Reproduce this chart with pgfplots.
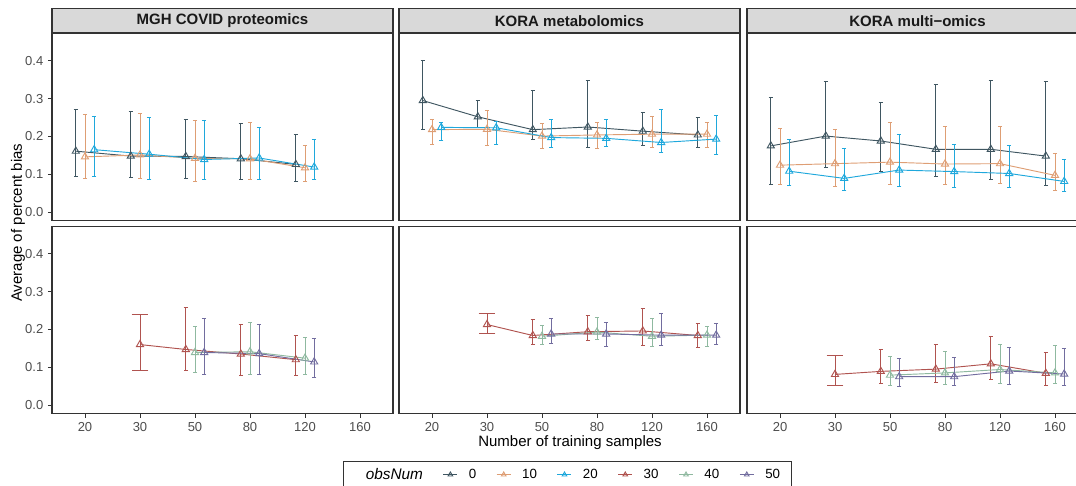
\documentclass[border=0pt]{standalone}
\usepackage{fontspec}
\setmainfont{Liberation Sans}
\usepackage{pgfplots}
\usepackage{pgfplotstable}
\pgfplotsset{compat=1.18}
\definecolor{c0}{HTML}{3F5661}
\definecolor{c10}{HTML}{DE9E74}
\definecolor{c20}{HTML}{1FA8DC}
\definecolor{c30}{HTML}{B0534F}
\definecolor{c40}{HTML}{8FB9A0}
\definecolor{c50}{HTML}{726D9F}
\definecolor{g20}{HTML}{333333}
\definecolor{g30}{HTML}{4D4D4D}
\definecolor{stripc}{HTML}{D9D9D9}

% MGH COVID proteomics
\pgfplotstableread{
x y lo hi
-0.167 0.161 0.095 0.272
0.833 0.148 0.092 0.266
1.833 0.147 0.089 0.244
2.833 0.141 0.085 0.235
3.833 0.126 0.082 0.204
}\mghA
\pgfplotstableread{
x y lo hi
0 0.146 0.090 0.257
1 0.151 0.090 0.262
2 0.142 0.082 0.241
3 0.141 0.087 0.236
4 0.117 0.081 0.176
}\mghB
\pgfplotstableread{
x y lo hi
0.167 0.165 0.093 0.254
1.167 0.153 0.087 0.251
2.167 0.139 0.086 0.242
3.167 0.143 0.086 0.224
4.167 0.119 0.085 0.191
}\mghC
\pgfplotstableread{
x y lo hi
1 0.160 0.091 0.240
1.833 0.147 0.091 0.257
2.833 0.135 0.077 0.214
3.833 0.120 0.078 0.185
}\mghD
\pgfplotstableread{
x y lo hi
2 0.139 0.086 0.209
3 0.141 0.082 0.218
4 0.124 0.080 0.180
}\mghE
\pgfplotstableread{
x y lo hi
2.167 0.139 0.082 0.228
3.167 0.136 0.082 0.212
4.167 0.114 0.074 0.177
}\mghF
% KORA metabolomics
\pgfplotstableread{
x y lo hi
-0.167 0.295 0.218 0.400
0.833 0.252 0.223 0.295
1.833 0.218 0.192 0.322
2.833 0.225 0.171 0.348
3.833 0.214 0.176 0.263
4.833 0.204 0.171 0.251
}\metA
\pgfplotstableread{
x y lo hi
0 0.218 0.180 0.246
1 0.219 0.176 0.269
2 0.201 0.169 0.234
3 0.204 0.168 0.238
4 0.206 0.172 0.254
5 0.206 0.171 0.236
}\metB
\pgfplotstableread{
x y lo hi
0.167 0.224 0.189 0.238
1.167 0.223 0.179 0.240
2.167 0.197 0.170 0.246
3.167 0.195 0.174 0.244
4.167 0.184 0.157 0.272
5.167 0.193 0.153 0.255
}\metC
\pgfplotstableread{
x y lo hi
1 0.213 0.189 0.241
1.833 0.184 0.161 0.227
2.833 0.194 0.170 0.238
3.833 0.196 0.158 0.255
4.833 0.184 0.151 0.217
}\metD
\pgfplotstableread{
x y lo hi
2 0.182 0.161 0.210
3 0.193 0.173 0.233
4 0.182 0.156 0.228
5 0.185 0.156 0.207
}\metE
\pgfplotstableread{
x y lo hi
2.167 0.188 0.162 0.229
3.167 0.188 0.154 0.219
4.167 0.185 0.158 0.242
5.167 0.185 0.161 0.217
}\metF
% KORA multi-omics
\pgfplotstableread{
x y lo hi
-0.167 0.175 0.074 0.304
0.833 0.201 0.117 0.345
1.833 0.188 0.107 0.290
2.833 0.166 0.094 0.338
3.833 0.166 0.086 0.347
4.833 0.148 0.069 0.346
}\mulA
\pgfplotstableread{
x y lo hi
0 0.124 0.072 0.220
1 0.128 0.068 0.218
2 0.132 0.072 0.238
3 0.127 0.074 0.227
4 0.128 0.076 0.227
5 0.097 0.058 0.156
}\mulB
\pgfplotstableread{
x y lo hi
0.167 0.108 0.069 0.193
1.167 0.089 0.056 0.167
2.167 0.111 0.068 0.204
3.167 0.107 0.066 0.180
4.167 0.102 0.064 0.176
5.167 0.081 0.055 0.139
}\mulC
\pgfplotstableread{
x y lo hi
1 0.081 0.053 0.131
1.833 0.089 0.056 0.146
2.833 0.095 0.060 0.159
3.833 0.109 0.068 0.182
4.833 0.084 0.053 0.139
}\mulD
\pgfplotstableread{
x y lo hi
2 0.079 0.053 0.128
3 0.085 0.055 0.141
4 0.094 0.058 0.161
5 0.085 0.058 0.157
}\mulE
\pgfplotstableread{
x y lo hi
2.167 0.075 0.048 0.124
3.167 0.075 0.051 0.126
4.167 0.090 0.055 0.153
5.167 0.082 0.052 0.149
}\mulF

\pgfplotsset{
  table/errtab/.style={x=x, y=y, y error plus expr=\thisrow{hi}-\thisrow{y}, y error minus expr=\thisrow{y}-\thisrow{lo}},
  panel/.style={
    scale only axis, width=255.75pt, height=140.25pt,
    xmin=-0.6, xmax=5.6, ymin=-0.0225, ymax=0.4725,
    axis line style={draw=g20, line width=0.8pt},
    tick style={draw=g20, line width=0.6pt},
    tick align=outside, major tick length=3pt,
    xtick pos=bottom, ytick pos=left,
    xtick={0,...,5}, xticklabels={20,30,50,80,120,160},
    ytick={0,0.1,0.2,0.3,0.4},
    yticklabel style={/pgf/number format/fixed, /pgf/number format/fixed zerofill, /pgf/number format/precision=1},
    /pgf/number format/assume math mode=true,
    ticklabel style={font=\fontsize{9.75}{11}\selectfont, text=g30},
    anchor=north west,
    every axis title shift=0pt,
  },
  notop/.style={xtick=\empty},
  noleft/.style={ytick=\empty},
  strip/.style={title={#1}, title style={at={(0.5,1)}, anchor=south, yshift=0pt,
    fill=stripc, draw=g20, line width=0.8pt, minimum width=255.75pt, minimum height=18.4pt,
    inner sep=0pt, font=\bfseries\fontsize{11.25}{13}\selectfont, text=black!90}},
  ser/.style={color=#1, line width=0.7pt, mark=triangle, mark size=3.1pt,
    mark options={solid, line width=0.7pt},
    /pgfplots/error bars/y dir=both, /pgfplots/error bars/y explicit,
    /pgfplots/error bars/error bar style={line width=0.7pt, solid},
    /pgfplots/error bars/error mark options={rotate=90, mark size=1.65pt, line width=0.7pt}},
  wide/.style={color=#1, line width=0.7pt, mark=none,
    /pgfplots/error bars/y dir=both, /pgfplots/error bars/y explicit,
    /pgfplots/error bars/error bar style={line width=0.7pt, solid},
    /pgfplots/error bars/error mark options={rotate=90, mark size=6.2pt, line width=0.7pt}},
  legkey/.style={color=#1, line width=0.7pt, mark=triangle, mark size=2pt, mark options={solid}},
}

\begin{document}
\begin{tikzpicture}
% top row
\begin{axis}[panel, notop, strip={MGH COVID proteomics}, at={(39pt,-25.125pt)}]
\addplot[ser=c0] table[errtab] {\mghA};
\addplot[ser=c10] table[errtab] {\mghB};
\addplot[ser=c20] table[errtab] {\mghC};
\end{axis}
\begin{axis}[panel, notop, noleft, strip={KORA metabolomics}, at={(299.25pt,-25.125pt)}]
\addplot[ser=c0] table[errtab] {\metA};
\addplot[ser=c10] table[errtab] {\metB};
\addplot[ser=c20] table[errtab] {\metC};
\end{axis}
\begin{axis}[panel, notop, noleft, strip={KORA multi−omics}, at={(560.25pt,-25.125pt)}]
\addplot[ser=c0] table[errtab] {\mulA};
\addplot[ser=c10] table[errtab] {\mulB};
\addplot[ser=c20] table[errtab] {\mulC};
\end{axis}
% bottom row
\begin{axis}[panel, at={(39pt,-169.875pt)}]
\addplot[wide=c30] coordinates {(1,0.160) += (0,0.080) -= (0,0.069)};
\addplot[ser=c30] table[errtab] {\mghD};
\addplot[ser=c40] table[errtab] {\mghE};
\addplot[ser=c50] table[errtab] {\mghF};
\end{axis}
\begin{axis}[panel, noleft, at={(299.25pt,-169.875pt)},
  legend columns=-1,
  legend style={at={(0.494,-0.327)}, anchor=center, draw=g20, line width=0.6pt,
    font=\fontsize{10}{12}\selectfont, inner xsep=8.25pt, inner ysep=5pt,
    nodes={inner sep=0pt},
    /tikz/every odd column/.append style={column sep=8.25pt},
    /tikz/every even column/.append style={column sep=15pt}},
  legend image code/.code={\draw[mark repeat=2, mark phase=2, #1] plot coordinates {(0pt,0pt) (5.25pt,0pt) (10.5pt,0pt)};},
]
\addplot[forget plot, wide=c30] coordinates {(1,0.213) += (0,0.028) -= (0,0.024)};
\addplot[forget plot, ser=c30] table[errtab] {\metD};
\addplot[forget plot, ser=c40] table[errtab] {\metE};
\addplot[forget plot, ser=c50] table[errtab] {\metF};
\addlegendimage{empty legend}
\addlegendentry{\fontsize{11.5}{13}\selectfont\itshape obsNum}
\addlegendimage{legkey=c0}
\addlegendentry{0}
\addlegendimage{legkey=c10}
\addlegendentry{10}
\addlegendimage{legkey=c20}
\addlegendentry{20}
\addlegendimage{legkey=c30}
\addlegendentry{30}
\addlegendimage{legkey=c40}
\addlegendentry{40}
\addlegendimage{legkey=c50}
\addlegendentry{50\hspace{6.75pt}}
\end{axis}
\begin{axis}[panel, noleft, at={(560.25pt,-169.875pt)}]
\addplot[wide=c30] coordinates {(1,0.081) += (0,0.050) -= (0,0.028)};
\addplot[ser=c30] table[errtab] {\mulD};
\addplot[ser=c40] table[errtab] {\mulE};
\addplot[ser=c50] table[errtab] {\mulF};
\end{axis}
\node[font=\fontsize{11.25}{13}\selectfont] at (427.5pt,-332pt) {Number of training samples};
\node[font=\fontsize{11.25}{13}\selectfont, rotate=90] at (13.5pt,-167pt) {Average of percent bias};
\pgfresetboundingbox
\path (0pt,0pt) rectangle (807pt,-364.5pt);
\end{tikzpicture}
\end{document}
